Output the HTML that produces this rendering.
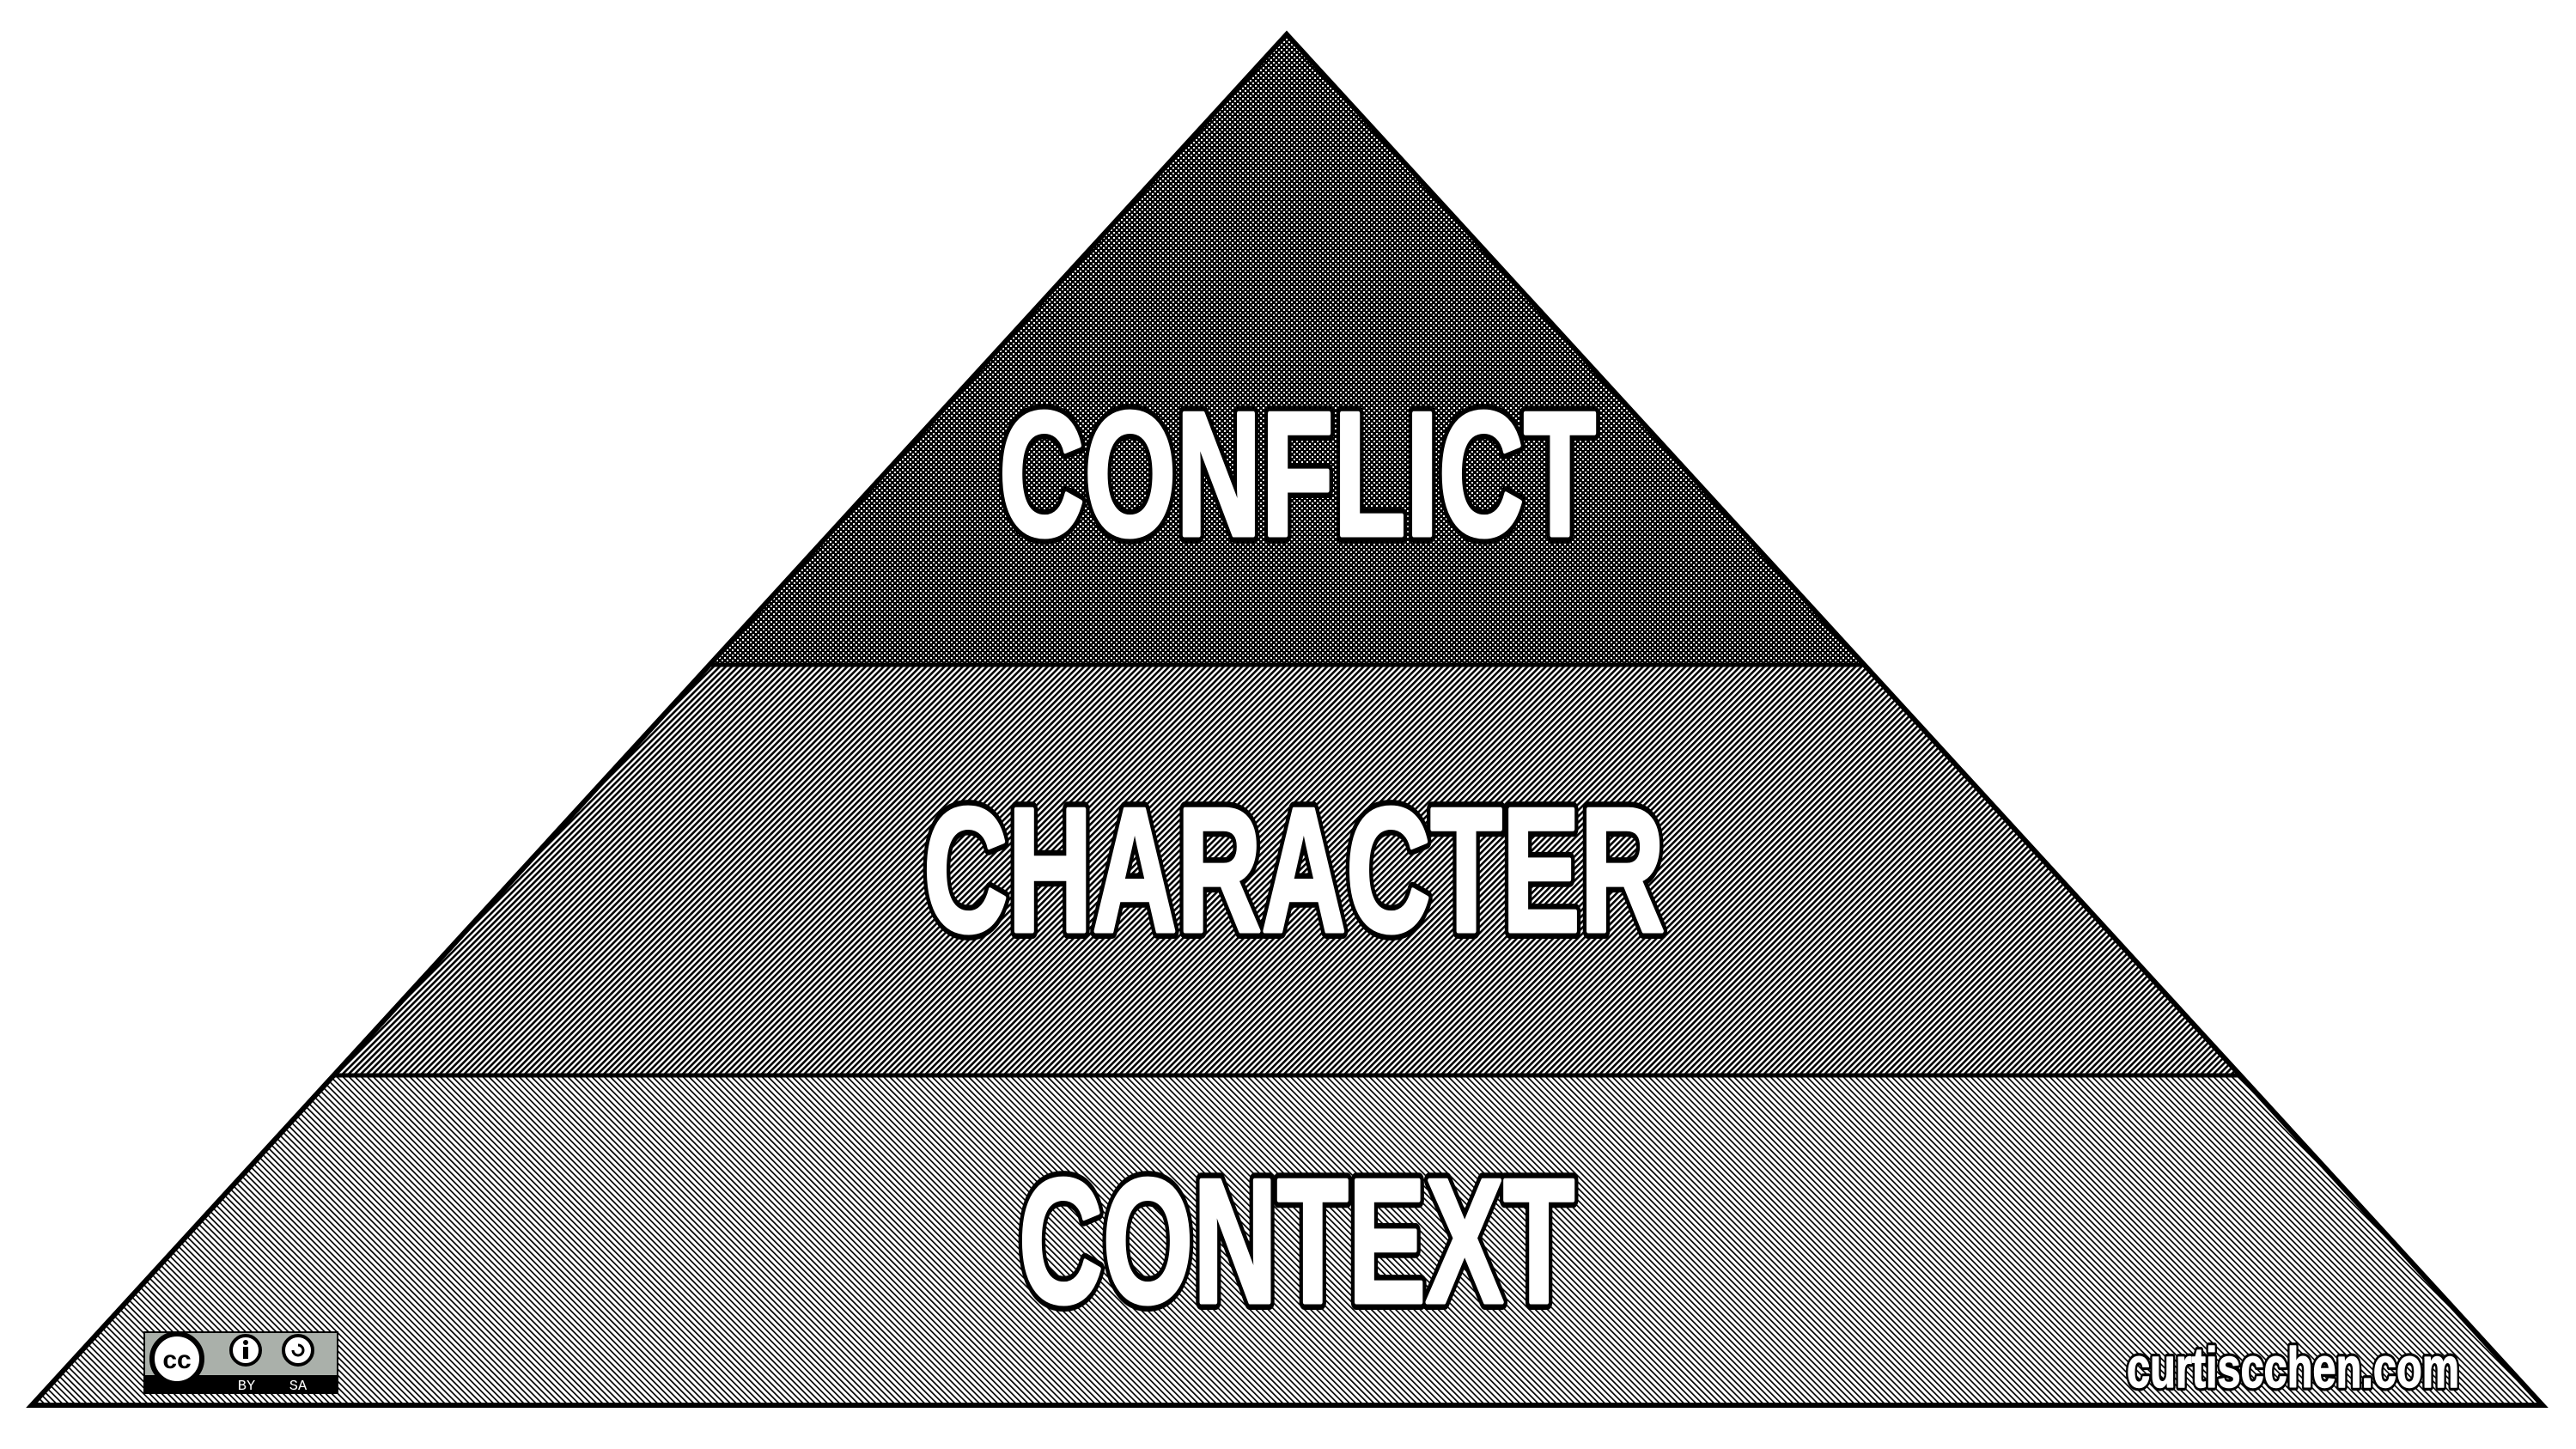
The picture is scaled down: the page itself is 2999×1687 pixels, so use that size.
<!DOCTYPE html>
<html><head><meta charset="utf-8"><style>
html,body{margin:0;padding:0;background:#fff;}
svg{display:block}
</style></head><body>
<svg width="2999" height="1687" viewBox="0 0 2999 1687" xmlns="http://www.w3.org/2000/svg">
<defs>
<pattern id="dots" width="6" height="6" patternUnits="userSpaceOnUse">
<rect width="6" height="6" fill="#000"/>
<rect x="0" y="0" width="2" height="2" fill="#fff"/>
<rect x="3" y="3" width="2" height="2" fill="#fff"/>
</pattern>
<pattern id="mid" width="5" height="5" patternUnits="userSpaceOnUse" patternTransform="rotate(45)">
<rect width="5" height="5" fill="#fff"/>
<rect width="2.6" height="5" fill="#000"/>
</pattern>
<pattern id="low" width="5" height="5" patternUnits="userSpaceOnUse" patternTransform="rotate(-45)">
<rect width="5" height="5" fill="#fff"/>
<rect width="1.7" height="5" fill="#000"/>
</pattern>
</defs>
<polygon points="1498,40 2170,774 826,774" fill="url(#dots)"/>
<polygon points="826,774 2170,774 2608,1252 389,1252" fill="url(#mid)"/>
<polygon points="389,1252 2608,1252 2960,1636 37,1636" fill="url(#low)"/>
<line x1="826" y1="774" x2="2170" y2="774" stroke="#000" stroke-width="5"/>
<line x1="389" y1="1252" x2="2608" y2="1252" stroke="#000" stroke-width="5"/>
<polygon points="1498,40 2960,1636 37,1636" fill="none" stroke="#000" stroke-width="6" stroke-linejoin="miter"/>

<g font-family="'Liberation Sans Narrow','Liberation Sans',sans-serif" font-weight="bold" fill="#000" stroke="#000" stroke-width="18" stroke-linejoin="round">
<text x="1163" y="623" font-size="206" textLength="695" lengthAdjust="spacingAndGlyphs">CONFLICT</text>
<text x="1075" y="1084" font-size="206" textLength="863" lengthAdjust="spacingAndGlyphs">CHARACTER</text>
<text x="1186" y="1516" font-size="206" textLength="647" lengthAdjust="spacingAndGlyphs">CONTEXT</text>
<text x="2476" y="1615" font-size="66" stroke-width="8" textLength="387" lengthAdjust="spacingAndGlyphs">curtiscchen.com</text>
</g>
<g font-family="'Liberation Sans Narrow','Liberation Sans',sans-serif" font-weight="bold" fill="#fff" stroke="#fff" stroke-width="5" stroke-linejoin="round">
<text x="1163" y="623" font-size="206" textLength="695" lengthAdjust="spacingAndGlyphs">CONFLICT</text>
<text x="1075" y="1084" font-size="206" textLength="863" lengthAdjust="spacingAndGlyphs">CHARACTER</text>
<text x="1186" y="1516" font-size="206" textLength="647" lengthAdjust="spacingAndGlyphs">CONTEXT</text>
<text x="2476" y="1615" font-size="66" stroke-width="1.5" textLength="387" lengthAdjust="spacingAndGlyphs">curtiscchen.com</text>
</g>

<g>
<rect x="168" y="1551" width="225" height="71" fill="#aab0aa" stroke="#000" stroke-width="2"/>
<rect x="168" y="1601" width="225" height="21" fill="#000"/>
<circle cx="206" cy="1582" r="29" fill="#fff" stroke="#000" stroke-width="6"/>
<text x="206" y="1593" font-family="'Liberation Sans',sans-serif" font-weight="bold" font-size="30" text-anchor="middle" fill="#000">cc</text>
<circle cx="286" cy="1572" r="17" fill="#fff" stroke="#000" stroke-width="4"/>
<circle cx="286" cy="1563" r="3" fill="#000"/>
<rect x="283" y="1568" width="6" height="14" fill="#000"/>
<circle cx="347" cy="1572" r="17" fill="#fff" stroke="#000" stroke-width="4"/>
<path d="M341 1572 a6 6 0 1 0 6 -6" fill="none" stroke="#000" stroke-width="3"/>
<text x="287" y="1618" font-family="'Liberation Mono',monospace" font-size="17" text-anchor="middle" fill="#fff">BY</text>
<text x="347" y="1618" font-family="'Liberation Mono',monospace" font-size="17" text-anchor="middle" fill="#fff">SA</text>
</g>
</svg>
</body></html>
